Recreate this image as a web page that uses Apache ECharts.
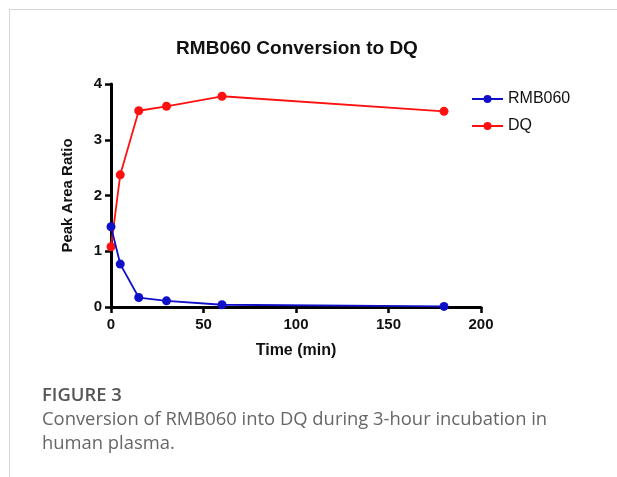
<!DOCTYPE html>
<html>
<head>
<meta charset="utf-8">
<script src="https://cdn.jsdelivr.net/npm/echarts@6/dist/echarts.min.js"></script>
<style>
html,body{margin:0;padding:0;background:#fff;}
#c{width:617px;height:477px;}
</style>
</head>
<body>
<div id="c"></div>
<script>
const times = [0, 5, 15, 30, 60, 180];
const rmb060 = [1.44, 0.77, 0.17, 0.11, 0.04, 0.01];
const dq = [1.08, 2.37, 3.52, 3.60, 3.78, 3.51];
const xTicks = [0, 50, 100, 150, 200];
const yTicks = [0, 1, 2, 3, 4];

const chart = echarts.init(document.getElementById('c'), null, {renderer: 'canvas'});
const F = '"Liberation Sans", Arial, Helvetica, sans-serif';
const CF = '"Open Sans", Lato, sans-serif';
const pair = (xs, ys) => xs.map((x, i) => [x, ys[i]]);

chart.setOption({
  animation: false,
  backgroundColor: '#fff',
  title: {
    text: 'RMB060 Conversion to DQ',
    left: 297, top: 39, textAlign: 'center', padding: 0,
    textStyle: {fontFamily: F, fontWeight: 'bold', fontSize: 19, color: '#111'}
  },
  legend: {
    orient: 'vertical', left: 471, top: 91, itemGap: 11, padding: 0,
    itemWidth: 31, itemHeight: 10,
    textStyle: {fontFamily: F, fontSize: 16, color: '#111'},
    data: ['RMB060', 'DQ']
  },
  grid: {left: 111, right: 136, top: 84, bottom: 170, containLabel: false},
  xAxis: {
    type: 'value', min: 0, max: 200, interval: 50,
    name: 'Time (min)', nameLocation: 'middle', nameGap: 36,
    nameTextStyle: {fontFamily: F, fontWeight: 'bold', fontSize: 16, color: '#111'},
    axisLine: {show: true, onZero: false, lineStyle: {color: '#000', width: 3}},
    axisTick: {show: true, length: 6, lineStyle: {color: '#000', width: 2.5}},
    axisLabel: {fontFamily: F, fontWeight: 'bold', fontSize: 15, color: '#111', margin: 10,
      formatter: v => xTicks.includes(v) ? String(v) : ''},
    splitLine: {show: false}
  },
  yAxis: {
    type: 'value', min: 0, max: 4, interval: 1,
    name: 'Peak Area Ratio', nameLocation: 'middle', nameGap: 36,
    nameTextStyle: {fontFamily: F, fontWeight: 'bold', fontSize: 15, color: '#111'},
    axisLine: {show: true, onZero: false, lineStyle: {color: '#000', width: 3}},
    axisTick: {show: true, length: 6, lineStyle: {color: '#000', width: 2.5}},
    axisLabel: {fontFamily: F, fontWeight: 'bold', fontSize: 15, color: '#111', margin: 9,
      formatter: v => yTicks.includes(v) ? String(v) : ''},
    splitLine: {show: false}
  },
  series: [
    {
      name: 'RMB060', type: 'line', data: pair(times, rmb060),
      symbol: 'circle', symbolSize: 9, clip: false,
      lineStyle: {color: '#1010c8', width: 1.8},
      itemStyle: {color: '#1010c8'}, z: 3
    },
    {
      name: 'DQ', type: 'line', data: pair(times, dq),
      symbol: 'circle', symbolSize: 9, clip: false,
      lineStyle: {color: '#ff1010', width: 1.8},
      itemStyle: {color: '#ff1010'}, z: 2
    }
  ],
  graphic: [
    {type: 'line', shape: {x1: 9, y1: 9.5, x2: 617, y2: 9.5}, style: {stroke: '#d8d8d8', lineWidth: 1}},
    {type: 'line', shape: {x1: 9.5, y1: 9, x2: 9.5, y2: 477}, style: {stroke: '#d8d8d8', lineWidth: 1}},
    {type: 'text', left: 42, top: 387, style: {text: 'FIGURE 3', fontFamily: CF, fontWeight: 600, fontSize: 18.4, fill: '#555'}},
    {type: 'text', left: 42, top: 411, style: {text: 'Conversion of RMB060 into DQ during 3-hour incubation in', fontFamily: CF, fontSize: 18.4, fill: '#666'}},
    {type: 'text', left: 42, top: 435, style: {text: 'human plasma.', fontFamily: CF, fontSize: 18.4, fill: '#666'}}
  ]
});
</script>
</body>
</html>
